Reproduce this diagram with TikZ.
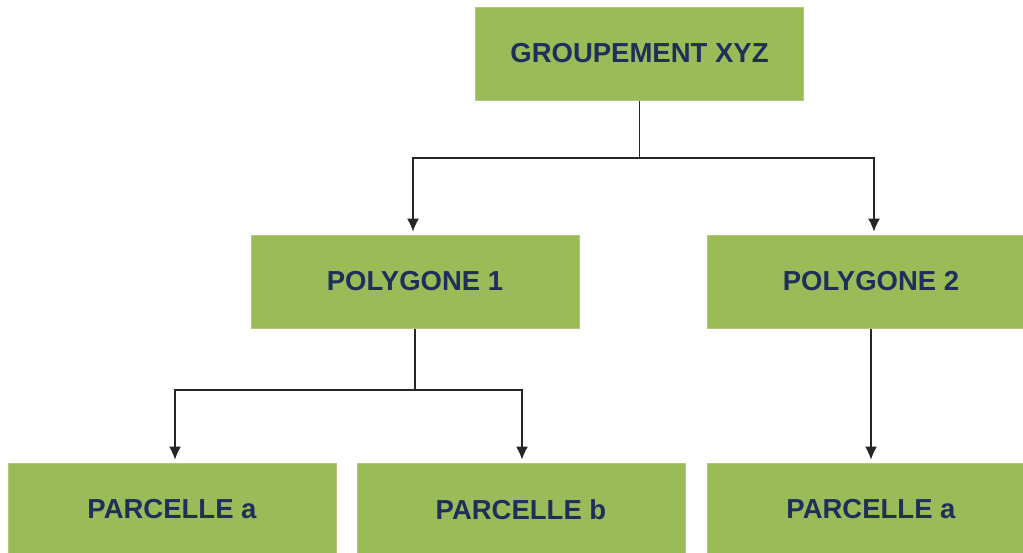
\documentclass[tikz,border=0pt]{standalone}
\usepackage{fontspec}
\setmainfont{Liberation Sans}
\usetikzlibrary{arrows.meta}
\definecolor{boxgreen}{HTML}{9BBB59}
\definecolor{boxedge}{HTML}{AFC978}
\definecolor{textnavy}{HTML}{1F2F5C}
\tikzset{
  entite/.style={draw=boxedge,line width=1pt,fill=boxgreen,minimum width=328pt,minimum height=93pt,inner sep=0pt,
    text=textnavy,font=\fontsize{27.5}{30}\selectfont\bfseries},
  lien/.style={draw=black!85,line width=1.1pt},
  fleche/.style={lien,-{Latex[length=13pt,width=12pt]}}
}

\begin{document}
\begin{tikzpicture}[x=1pt,y=-1pt]
\clip (0,0) rectangle (1023,552);
\fill[white] (0,0) rectangle (1023,552);
% niveau 1
\node[entite] (grp) at (639.5,53.5) {GROUPEMENT XYZ};
% niveau 2
\node[entite] (poly1) at (415,281.5) {POLYGONE 1};
\node[entite] (poly2) at (871,281.5) {POLYGONE 2};
% niveau 3
\node[entite] (parc1a) at (172,509.5) {PARCELLE a};
\node[entite] (parc1b) at (521,509.5) {PARCELLE b};
\node[entite] (parc2a) at (871,509.5) {PARCELLE a};
% liens
\coordinate (j1) at (639.5,158);
\coordinate (j2) at (415,390);
\draw[lien] (grp.south) -- (j1);
\draw[fleche] (j1) -| ([xshift=-2pt,yshift=3pt]poly1.north);
\draw[fleche] (j1) -| ([xshift=3pt,yshift=3pt]poly2.north);
\draw[lien] (poly1.south) -- (j2);
\draw[fleche] (j2) -| ([xshift=3pt,yshift=3pt]parc1a.north);
\draw[fleche] (j2) -| ([xshift=1pt,yshift=3pt]parc1b.north);
\draw[fleche] (poly2.south) -- ([yshift=3pt]parc2a.north);
\end{tikzpicture}
\end{document}
